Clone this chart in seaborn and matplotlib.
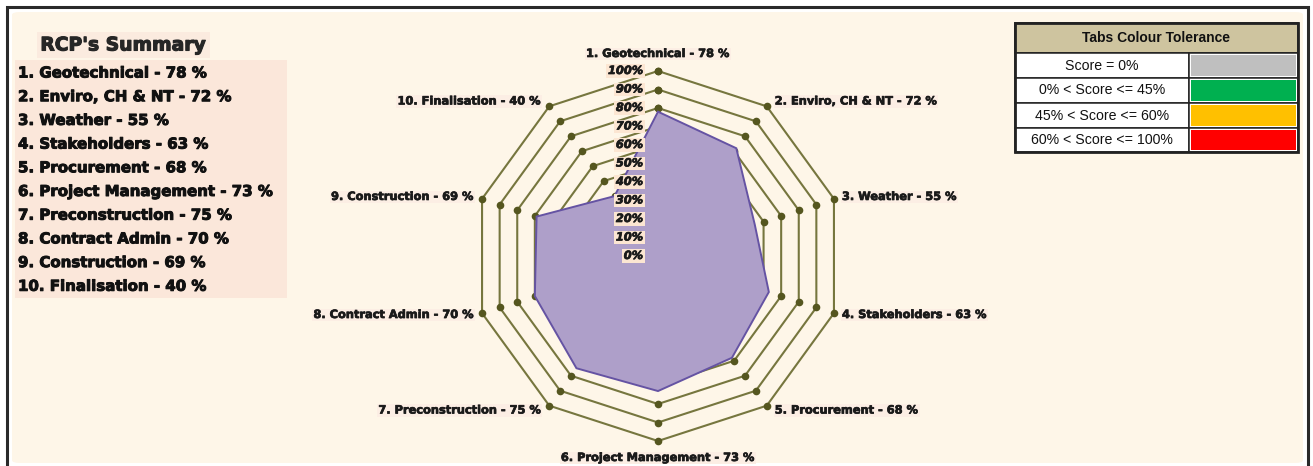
import numpy as np
import pandas as pd
import matplotlib
matplotlib.use("Agg")
import matplotlib.pyplot as plt
from matplotlib.patches import Rectangle, FancyBboxPatch
import matplotlib.patheffects as pe
import seaborn as sns

# ---------------- data ----------------
categories = ["Geotechnical", "Enviro, CH & NT", "Weather", "Stakeholders", "Procurement",
              "Project Management", "Preconstruction", "Contract Admin", "Construction", "Finalisation"]
scores = [78, 72, 55, 63, 68, 73, 75, 70, 69, 40]
ring_levels = [10, 20, 30, 40, 50, 60, 70, 80, 90, 100]
tick_values = [0, 10, 20, 30, 40, 50, 60, 70, 80, 90, 100]
tick_labels = ["0%", "10%", "20%", "30%", "40%", "50%", "60%", "70%", "80%", "90%", "100%"]
summary_title = "RCP's Summary"
legend_title = "Tabs Colour Tolerance"
legend_labels = ["Score = 0%", "0% < Score <= 45%", "45% < Score <= 60%", "60% < Score <= 100%"]
legend_colors = ["#BFBFBF", "#00B050", "#FFC000", "#FF0000"]

# ---------------- styling ----------------
sns.set_theme(style="white")
plt.rcParams["font.family"] = ["DejaVu Sans"]

W, H = 1313, 466
fig = plt.figure(figsize=(W / 100, H / 100), dpi=100, facecolor="white")

def fx(x):
    return x / W

def fy(y):
    return 1 - y / H

def heavy(col, w=0.7):
    return [pe.withStroke(linewidth=w, foreground=col)]

# frame + cream background
fig.patches.append(Rectangle((fx(7), fy(470)), fx(1308) - fx(7), fy(7) - fy(470),
                             transform=fig.transFigure, facecolor="white",
                             edgecolor="#2a2a2a", lw=2.2, zorder=0))
fig.patches.append(FancyBboxPatch((fx(12), fy(463)), fx(1303) - fx(12), fy(12) - fy(463),
                                  boxstyle="round,pad=0,rounding_size=0.006",
                                  transform=fig.transFigure, facecolor="#FEF6E8",
                                  edgecolor="none", zorder=0.5))

# ---------------- radar ----------------
cx, cy, R = 658, 256, 185
ax = fig.add_axes([fx(cx - R), fy(cy + R), 2 * R / W, 2 * R / H], projection="polar")
ax.set_zorder(10)
ax.patch.set_visible(False)
ax.set_theta_zero_location("N")
ax.set_theta_direction(-1)
ax.set_ylim(0, 100)
ax.axis("off")

n = len(categories)
theta = np.linspace(0, 2 * np.pi, n, endpoint=False)
theta_c = np.append(theta, theta[0])

ring_col = "#76763E"
for lvl in ring_levels:
    df = pd.DataFrame({"t": theta_c, "r": [lvl] * (n + 1)})
    sns.lineplot(data=df, x="t", y="r", sort=False, estimator=None, ax=ax,
                 color=ring_col, lw=1.5, marker="o", markersize=5.5,
                 markerfacecolor="#55561F", markeredgewidth=0, clip_on=False, zorder=2)

sc = np.append(scores, scores[0])
ax.fill(theta_c, sc, facecolor="#AE9FC9", edgecolor="#6553A3", lw=1.4, zorder=3)
ax.set_xlabel("")
ax.set_ylabel("")

# radial tick labels
for v, lab in zip(tick_values, tick_labels):
    ax.annotate(lab, xy=(0, v), xytext=(-15, 0), textcoords="offset pixels",
                ha="right", va="center", fontsize=8.2, fontweight="bold", style="italic",
                color="#1a1a1a", zorder=5, annotation_clip=False,
                path_effects=heavy("#1a1a1a", 0.5),
                bbox=dict(boxstyle="square,pad=0.14", facecolor="#FCE6D2", edgecolor="none"))

# category labels
for i, (t, cat, s) in enumerate(zip(theta, categories, scores)):
    st, ct = np.sin(t), np.cos(t)
    if abs(st) < 0.1:
        ha, dx, dy = "center", 0, 17 * np.sign(ct)
    else:
        ha = "left" if st > 0 else "right"
        dx, dy = 8 * np.sign(st), 6 * ct
    ax.annotate(f"{i + 1}. {cat} - {s} %", xy=(t, 100), xytext=(dx, dy),
                textcoords="offset pixels", ha=ha, va="center", fontsize=8.2,
                fontweight="bold", color="#1a1a1a", annotation_clip=False, zorder=5,
                path_effects=heavy("#1a1a1a", 0.5),
                bbox=dict(boxstyle="square,pad=0.1", facecolor="#FCEEE4", edgecolor="none"))

# ---------------- left summary ----------------
fig.patches.append(Rectangle((fx(15), fy(298)), fx(287) - fx(15), fy(60) - fy(298),
                             transform=fig.transFigure, facecolor="#FBE7DA",
                             edgecolor="none", zorder=1))
fig.patches.append(Rectangle((fx(37), fy(58)), fx(210) - fx(37), fy(32) - fy(58),
                             transform=fig.transFigure, facecolor="#FBEBDF",
                             edgecolor="none", zorder=1))
fig.text(fx(123), fy(45), summary_title, ha="center", va="center", fontsize=13.5,
         fontweight="bold", color="#262626", zorder=3, path_effects=heavy("#262626", 0.8))
for i, (cat, s) in enumerate(zip(categories, scores)):
    fig.text(fx(18), fy(73 + i * 23.7), f"{i + 1}. {cat} - {s} %", ha="left", va="center",
             fontsize=10.8, fontweight="bold", color="#111111", zorder=3,
             path_effects=heavy("#111111", 0.7))

# ---------------- legend table ----------------
tx0, tx1, tdiv = 1015, 1298, 1189
rows_y = [23, 53, 78, 103, 128, 152]
fig.patches.append(Rectangle((fx(tx0), fy(rows_y[1])), fx(tx1) - fx(tx0), fy(rows_y[0]) - fy(rows_y[1]),
                             transform=fig.transFigure, facecolor="#CEC49F",
                             edgecolor="#222222", lw=1.3, zorder=2))
fig.text(fx((tx0 + tx1) / 2), fy((rows_y[0] + rows_y[1]) / 2), legend_title,
         ha="center", va="center", fontsize=10, fontweight="bold",
         family="Liberation Sans", color="#111111", zorder=3)
for k, (lab, col) in enumerate(zip(legend_labels, legend_colors)):
    y0, y1 = rows_y[k + 1], rows_y[k + 2]
    fig.patches.append(Rectangle((fx(tx0), fy(y1)), fx(tdiv) - fx(tx0), fy(y0) - fy(y1),
                                 transform=fig.transFigure, facecolor="white",
                                 edgecolor="#222222", lw=1.1, zorder=2))
    fig.patches.append(Rectangle((fx(tdiv), fy(y1)), fx(tx1) - fx(tdiv), fy(y0) - fy(y1),
                                 transform=fig.transFigure, facecolor="white",
                                 edgecolor="#222222", lw=1.1, zorder=2))
    fig.patches.append(Rectangle((fx(tdiv + 2), fy(y1 - 2)), fx(tx1 - 2) - fx(tdiv + 2),
                                 fy(y0 + 2) - fy(y1 - 2), transform=fig.transFigure,
                                 facecolor=col, edgecolor="none", zorder=2.5))
    fig.text(fx((tx0 + tdiv) / 2), fy((y0 + y1) / 2), lab, ha="center", va="center",
             fontsize=10.2, family="Liberation Sans", color="#111111", zorder=3)
fig.patches.append(Rectangle((fx(tx0), fy(rows_y[-1])), fx(tx1) - fx(tx0),
                             fy(rows_y[0]) - fy(rows_y[-1]), transform=fig.transFigure,
                             facecolor="none", edgecolor="#222222", lw=2, zorder=4))

fig.savefig("out.png", dpi=100, facecolor="white")
